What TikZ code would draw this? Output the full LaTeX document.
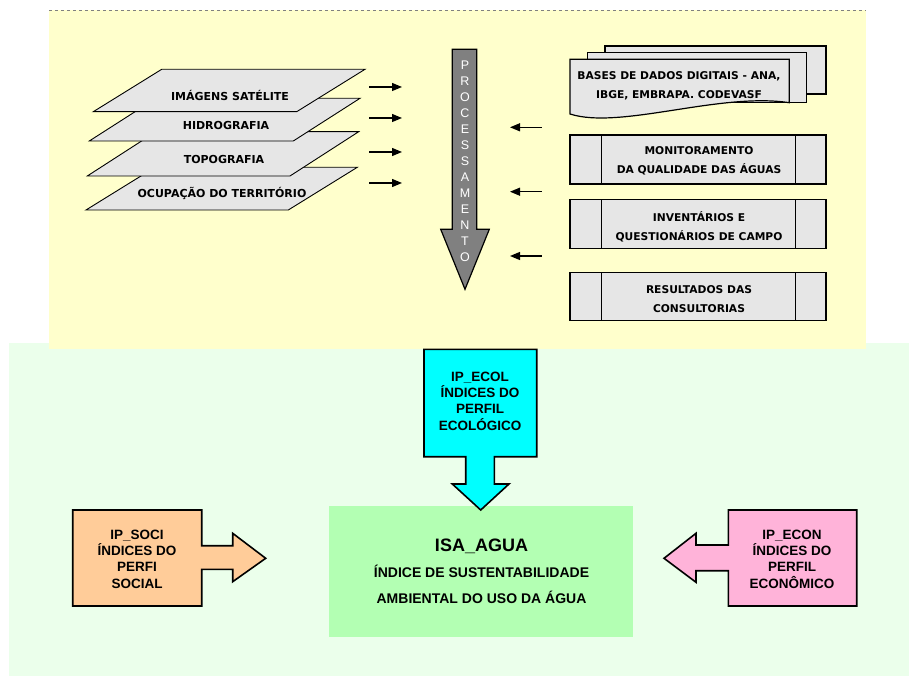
\documentclass[tikz,border=0pt]{standalone}
\usepackage{fontspec}
\setmainfont{Liberation Sans}
\newfontfamily\vfont{DejaVu Sans}
\usetikzlibrary{arrows.meta}

\definecolor{bgyellow}{HTML}{FFFFCC}
\definecolor{bggreen}{HTML}{EBFFEB}
\definecolor{paper}{HTML}{E6E6E6}
\definecolor{procgray}{HTML}{808080}
\definecolor{peach}{HTML}{FFCC99}
\definecolor{ecolcyan}{HTML}{00FFFF}
\definecolor{isagreen}{HTML}{B3FFB3}
\definecolor{econpink}{HTML}{FFB3D9}

\tikzset{
  layer/.style={fill=paper, draw=black, line width=0.9pt, line join=miter},
  layertext/.style={font=\vfont\bfseries\fontsize{11}{12}\selectfont, inner sep=0pt},
  srcbox/.style={fill=paper, draw=black, line width=1.2pt},
  srctext/.style={font=\vfont\bfseries\fontsize{10.7}{19}\selectfont, align=center, inner sep=0pt},
  feed/.style={line width=1.2pt, -{Triangle[length=10pt,width=8pt]}},
  blockarrow/.style={draw=black, line width=1.6pt, line join=miter},
  idxtext/.style={font=\bfseries\fontsize{13.5}{16.3}\selectfont, align=center, inner sep=0pt},
}

\begin{document}
\begin{tikzpicture}[x=1pt, y=-1pt]
\useasboundingbox (0,0) rectangle (909,676);

% background panels
\fill[bggreen] (9,343) rectangle (909,676);
\fill[bgyellow] (49,10) rectangle (866,349);
\draw[gray, dashed, line width=0.6pt] (49,10) -- (866,10);

% stacked map layers, bottom one first
\draw[layer] (86,210) -- (288.3,210) -- (357.3,167.3) -- (155,167.3) -- cycle;
\draw[layer] (87.3,176) -- (290,176) -- (358.7,131.7) -- (156,131.7) -- cycle;
\draw[layer] (89.3,141) -- (293.3,141) -- (360,98.3) -- (156,98.3) -- cycle;
\draw[layer] (93.3,111.7) -- (296.7,111.7) -- (365,69.3) -- (161.7,69.3) -- cycle;
\node[layertext] (sat) at (230,95) {IMÁGENS SATÉLITE};
\node[layertext] (hidro) at (226,125) {HIDROGRAFIA};
\node[layertext] (topo) at (224,159) {TOPOGRAFIA};
\node[layertext] (ocup) at (222,193) {OCUPAÇÃO DO TERRITÓRIO};

% arrows from the layers into the processing
\coordinate (l1s) at (369,87);  \coordinate (l1e) at (402,87);
\coordinate (l2s) at (369,118); \coordinate (l2e) at (402,118);
\coordinate (l3s) at (369,152); \coordinate (l3e) at (402,152);
\coordinate (l4s) at (369,183); \coordinate (l4e) at (402,183);
\draw[feed] (l1s) -- (l1e);
\draw[feed] (l2s) -- (l2e);
\draw[feed] (l3s) -- (l3e);
\draw[feed] (l4s) -- (l4e);

% processing arrow
\draw[fill=procgray, draw=black, line width=1.2pt, line join=miter]
  (452.3,49.3) -- (476.7,49.3) -- (476.7,229.3) -- (489.3,229.3) -- (465,289.3)
  -- (440.7,229.3) -- (452.3,229.3) -- cycle;
\node[font=\fontsize{12.5}{16}\selectfont, text=white, align=center, inner sep=0pt] (proc) at (465,161)
  {P\\R\\O\\C\\E\\S\\S\\A\\M\\E\\N\\T\\O};

% arrows from the data sources into the processing
\coordinate (r1s) at (541.7,127.3); \coordinate (r1e) at (510,127.3);
\coordinate (r2s) at (541.7,191.7); \coordinate (r2e) at (510,191.7);
\coordinate (r3s) at (541.7,256);   \coordinate (r3e) at (510,256);
\draw[feed] (r1s) -- (r1e);
\draw[feed] (r2s) -- (r2e);
\draw[feed] (r3s) -- (r3e);

% multi-document shape
\draw[srcbox] (605,46) rectangle (826,94);
\draw[srcbox] (587.3,52.7) rectangle (806.7,102.7);
\draw[srcbox] (570,114) -- (570,59.3) -- (789.3,59.3) -- (789.3,102.7)
  .. controls (720,92) and (620,130) .. (570,114) -- cycle;
\node[srctext] (bases) at (679,86) {BASES DE DADOS DIGITAIS - ANA,\\IBGE, EMBRAPA. CODEVASF};

% predefined-process boxes
\foreach \yt/\yb in {135/184, 199.3/248.3, 272.7/320.7}{
  \draw[srcbox] (570,\yt) rectangle (826,\yb);
  \draw[line width=1pt] (601,\yt) -- (601,\yb) (795,\yt) -- (795,\yb);
}
\node[srctext] (monit) at (699,161.3) {MONITORAMENTO\\DA QUALIDADE DAS ÁGUAS};
\node[srctext] (invent) at (699,227) {INVENTÁRIOS E\\QUESTIONÁRIOS DE CAMPO};
\node[srctext] (consult) at (699,299) {RESULTADOS DAS\\CONSULTORIAS};

% central index
\fill[isagreen] (329.3,506) rectangle (633.3,637.3);
\node[font=\bfseries\fontsize{14}{26}\selectfont, align=center, inner sep=0pt] (isa) at (481.5,571)
  {{\fontsize{18}{26}\selectfont ISA\_AGUA}\\ÍNDICE DE SUSTENTABILIDADE\\AMBIENTAL DO USO DA ÁGUA};

% ecological profile arrow
\draw[blockarrow, fill=ecolcyan]
  (424,349.3) -- (536.7,349.3) -- (536.7,456.7) -- (494.3,456.7) -- (494.3,484)
  -- (509,484) -- (480.7,510) -- (452.3,484) -- (465.7,484) -- (465.7,456.7)
  -- (424,456.7) -- cycle;
\node[idxtext] (ecol) at (480,401) {IP\_ECOL\\ÍNDICES DO\\PERFIL\\ECOLÓGICO};

% social profile arrow
\draw[blockarrow, fill=peach]
  (72.7,510) -- (201.7,510) -- (201.7,545.7) -- (232.7,545.7) -- (232.7,533.3)
  -- (265.7,558.3) -- (232.7,581.7) -- (232.7,569.3) -- (201.7,569.3) -- (201.7,606)
  -- (72.7,606) -- cycle;
\node[idxtext] (soci) at (137,559) {IP\_SOCI\\ÍNDICES DO\\PERFI\\ SOCIAL};

% economic profile arrow
\draw[blockarrow, fill=econpink]
  (856.7,510) -- (728.3,510) -- (728.3,545) -- (696,545) -- (696,533.3)
  -- (664,558.3) -- (696,582.3) -- (696,570.7) -- (728.3,570.7) -- (728.3,606)
  -- (856.7,606) -- cycle;
\node[idxtext] (econ) at (792,559) {IP\_ECON\\ÍNDICES DO\\PERFIL\\ECONÔMICO};

\end{tikzpicture}
\end{document}
